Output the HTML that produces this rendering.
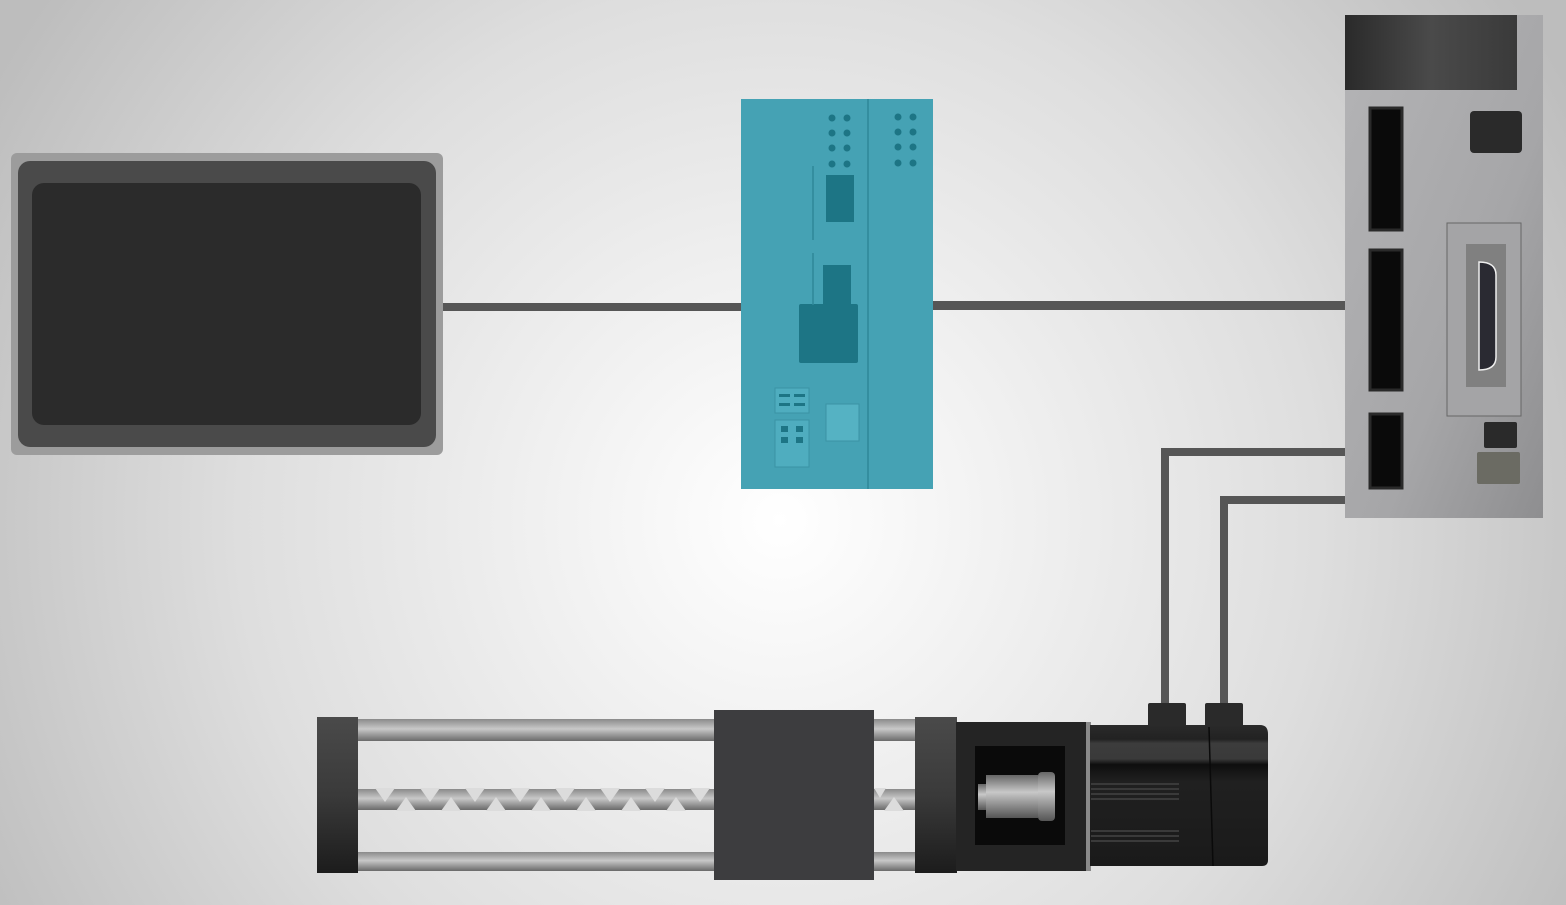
<!DOCTYPE html>
<html><head><meta charset="utf-8"><style>html,body{margin:0;padding:0;width:1566px;height:905px;overflow:hidden}svg{display:block}</style></head>
<body>
<svg width="1566" height="905" viewBox="0 0 1566 905" xmlns="http://www.w3.org/2000/svg">
<defs>
<radialGradient id="bg" cx="780" cy="520" r="900" gradientUnits="userSpaceOnUse">
<stop offset="0" stop-color="#ffffff"/><stop offset="0.6" stop-color="#dedede"/><stop offset="1" stop-color="#bdbdbd"/></radialGradient>
<linearGradient id="rod" x1="0" y1="0" x2="0" y2="1"><stop offset="0" stop-color="#8a8a8a"/><stop offset="0.45" stop-color="#c8c8c8"/><stop offset="1" stop-color="#6a6a6a"/></linearGradient>
<linearGradient id="blk" x1="0" y1="0" x2="0" y2="1"><stop offset="0" stop-color="#4a4a4a"/><stop offset="0.5" stop-color="#3a3a3a"/><stop offset="1" stop-color="#1c1c1c"/></linearGradient>
<linearGradient id="mot" x1="0" y1="0" x2="0" y2="1"><stop offset="0" stop-color="#2a2a2a"/><stop offset="0.1" stop-color="#222"/><stop offset="0.13" stop-color="#3c3c3c"/><stop offset="0.24" stop-color="#3a3a3a"/><stop offset="0.28" stop-color="#0e0e0e"/><stop offset="0.4" stop-color="#202020"/><stop offset="1" stop-color="#1a1a1a"/></linearGradient>
<linearGradient id="drv" x1="0" y1="0" x2="1" y2="1"><stop offset="0" stop-color="#b4b4b6"/><stop offset="0.6" stop-color="#a6a6a8"/><stop offset="1" stop-color="#8e8e90"/></linearGradient>
<linearGradient id="top" x1="0" y1="0" x2="1" y2="0"><stop offset="0" stop-color="#2a2a2a"/><stop offset="0.5" stop-color="#4a4a4a"/><stop offset="1" stop-color="#3a3a3a"/></linearGradient>
<linearGradient id="shaft" x1="0" y1="0" x2="0" y2="1"><stop offset="0" stop-color="#666"/><stop offset="0.4" stop-color="#c8c8c8"/><stop offset="1" stop-color="#555"/></linearGradient>
</defs>
<rect width="1566" height="905" fill="url(#bg)"/>

<rect x="442" y="303" width="300" height="8" fill="#565656"/>
<rect x="932" y="301" width="414" height="9" fill="#565656"/>
<path d="M1346 452 H1165 V705" fill="none" stroke="#565656" stroke-width="8"/>
<path d="M1346 500 H1224 V705" fill="none" stroke="#565656" stroke-width="8"/>

<rect x="11" y="153" width="432" height="302" rx="6" fill="#9c9c9c"/>
<rect x="18" y="161" width="418" height="286" rx="12" fill="#4a4a4a"/>
<rect x="32" y="183" width="389" height="242" rx="12" fill="#2b2b2b"/>

<rect x="741" y="99" width="192" height="390" fill="#45a2b4"/>
<line x1="868" y1="99" x2="868" y2="489" stroke="#2f8898" stroke-width="1.5"/>
<g fill="#1d7585">
<circle cx="832" cy="118" r="3.5"/><circle cx="847" cy="118" r="3.5"/>
<circle cx="832" cy="133" r="3.5"/><circle cx="847" cy="133" r="3.5"/>
<circle cx="832" cy="148" r="3.5"/><circle cx="847" cy="148" r="3.5"/>
<circle cx="832" cy="164" r="3.5"/><circle cx="847" cy="164" r="3.5"/>
<circle cx="898" cy="117" r="3.5"/><circle cx="913" cy="117" r="3.5"/>
<circle cx="898" cy="132" r="3.5"/><circle cx="913" cy="132" r="3.5"/>
<circle cx="898" cy="147" r="3.5"/><circle cx="913" cy="147" r="3.5"/>
<circle cx="898" cy="163" r="3.5"/><circle cx="913" cy="163" r="3.5"/>
<rect x="826" y="175" width="28" height="47"/>
<rect x="823" y="265" width="28" height="42"/>
<rect x="799" y="304" width="59" height="59" rx="2"/>
</g>
<line x1="813" y1="166" x2="813" y2="240" stroke="#2f8898" stroke-width="1.5"/>
<line x1="813" y1="253" x2="813" y2="305" stroke="#2f8898" stroke-width="1.5"/>
<rect x="775" y="388" width="34" height="25" fill="#4fadbf" stroke="#3a93a4"/>
<g fill="#1d7585"><rect x="779" y="394" width="11" height="3"/><rect x="794" y="394" width="11" height="3"/><rect x="779" y="403" width="11" height="3"/><rect x="794" y="403" width="11" height="3"/></g>
<rect x="775" y="420" width="34" height="47" fill="#4fadbf" stroke="#3a93a4"/>
<g fill="#1d7585"><rect x="781" y="426" width="7" height="6"/><rect x="796" y="426" width="7" height="6"/><rect x="781" y="437" width="7" height="6"/><rect x="796" y="437" width="7" height="6"/></g>
<rect x="826" y="404" width="33" height="37" fill="#55b2c3" stroke="#3a93a4"/>

<rect x="1345" y="15" width="198" height="503" fill="url(#drv)"/>
<rect x="1345" y="15" width="172" height="75" fill="url(#top)"/>
<g fill="#0a0a0a" stroke="#2a2a2a" stroke-width="3">
<rect x="1370" y="108" width="32" height="122"/>
<rect x="1370" y="250" width="32" height="140"/>
<rect x="1370" y="414" width="32" height="74"/>
</g>
<rect x="1470" y="111" width="52" height="42" rx="4" fill="#2a2a2a"/>
<rect x="1447" y="223" width="74" height="193" fill="#a4a4a6" stroke="#666" stroke-width="1"/>
<rect x="1466" y="244" width="40" height="143" fill="#808080"/>
<path d="M1479 262 Q1496 262 1496 275 V357 Q1496 370 1479 370 Z" fill="#2a2a32" stroke="#eee" stroke-width="1.5"/>
<rect x="1484" y="422" width="33" height="26" rx="2" fill="#2a2a2a"/>
<rect x="1477" y="452" width="43" height="32" rx="2" fill="#6b6b63"/>

<rect x="357" y="719" width="560" height="22" fill="url(#rod)"/>
<rect x="357" y="852" width="560" height="19" fill="url(#rod)"/>
<rect x="357" y="789" width="560" height="21" fill="url(#rod)"/>
<g fill="#dcdcdc">
<path d="M396 811 L406 797 L416 811 Z"/><path d="M441 811 L451 797 L461 811 Z"/><path d="M486 811 L496 797 L506 811 Z"/><path d="M531 811 L541 797 L551 811 Z"/><path d="M576 811 L586 797 L596 811 Z"/><path d="M621 811 L631 797 L641 811 Z"/><path d="M666 811 L676 797 L686 811 Z"/><path d="M884 811 L894 797 L904 811 Z"/>
<path d="M375 788 L385 802 L395 788 Z"/><path d="M420 788 L430 802 L440 788 Z"/><path d="M465 788 L475 802 L485 788 Z"/><path d="M510 788 L520 802 L530 788 Z"/><path d="M555 788 L565 802 L575 788 Z"/><path d="M600 788 L610 802 L620 788 Z"/><path d="M645 788 L655 802 L665 788 Z"/><path d="M690 788 L700 802 L710 788 Z"/><path d="M874 788 L880 798 L886 788 Z"/>
</g>
<rect x="317" y="717" width="41" height="156" fill="url(#blk)"/>
<rect x="714" y="710" width="160" height="170" fill="#3d3d3f"/>
<rect x="915" y="717" width="42" height="156" fill="url(#blk)"/>
<rect x="956" y="722" width="133" height="149" fill="#242424"/>
<rect x="975" y="746" width="90" height="99" fill="#0a0a0a"/>
<rect x="978" y="784" width="8" height="26" fill="url(#shaft)"/>
<rect x="986" y="775" width="52" height="43" fill="url(#shaft)"/>
<rect x="1038" y="772" width="17" height="49" rx="4" fill="url(#shaft)"/>
<rect x="1086" y="722" width="5" height="149" fill="#8a8a8a"/>
<rect x="1148" y="703" width="38" height="24" rx="2" fill="#2a2a2a"/>
<rect x="1205" y="703" width="38" height="24" rx="2" fill="#2a2a2a"/>
<path d="M1090 725 H1260 Q1268 725 1268 734 V860 Q1268 866 1262 866 H1090 Z" fill="url(#mot)"/>
<line x1="1209" y1="727" x2="1213" y2="866" stroke="#0a0a0a" stroke-width="1.5"/>
<g fill="#3a3a3a">
<rect x="1091" y="783" width="88" height="2"/><rect x="1091" y="788" width="88" height="2"/><rect x="1091" y="793" width="88" height="2"/><rect x="1091" y="798" width="88" height="2"/>
<rect x="1091" y="830" width="88" height="2"/><rect x="1091" y="835" width="88" height="2"/><rect x="1091" y="840" width="88" height="2"/>
</g>
</svg>
</body></html>
